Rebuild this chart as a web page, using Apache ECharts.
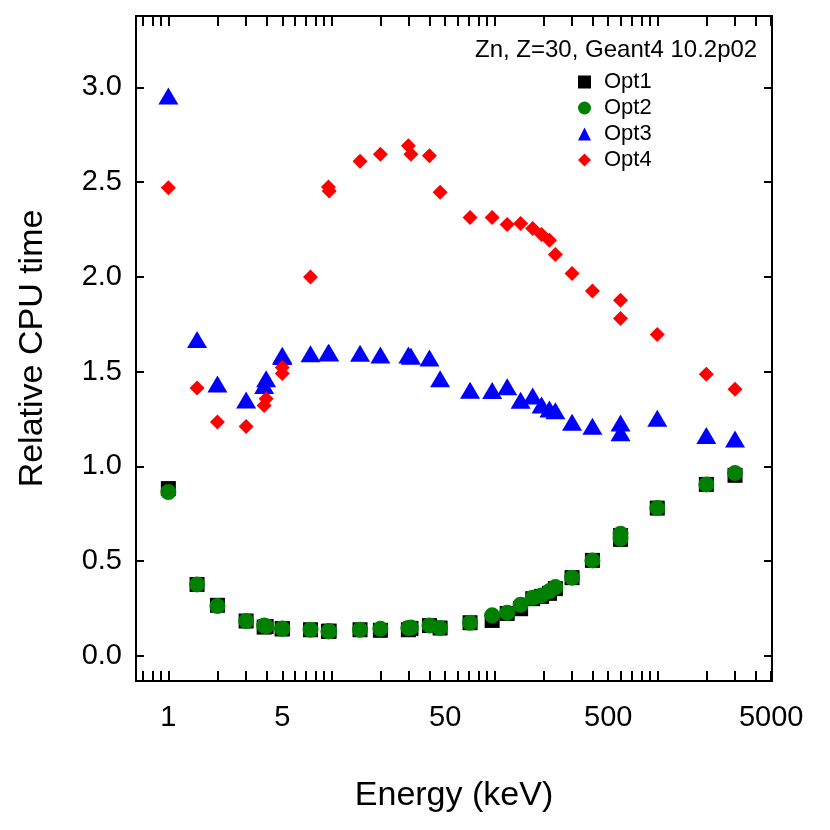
<!DOCTYPE html>
<html>
<head>
<meta charset="utf-8">
<script src="https://cdn.jsdelivr.net/npm/echarts@6/dist/echarts.min.js"></script>
<style>
html,body{margin:0;padding:0;background:#fff;}
#chart{width:830px;height:830px;}
</style>
</head>
<body>
<div id="chart"></div>
<script>
// ---- data ----
const energy = [1, 1.5, 2, 3, 3.87, 3.98, 5, 5, 7.45, 9.6, 9.7, 15, 20, 29.7, 30.8, 40, 46.5, 71, 97, 120, 145, 172, 195, 218, 237, 300, 400, 595, 595, 1000, 2000, 3000];
const opt1 = [0.883, 0.377, 0.267, 0.184, 0.152, 0.155, 0.143, 0.143, 0.138, 0.129, 0.131, 0.138, 0.135, 0.138, 0.145, 0.160, 0.147, 0.175, 0.187, 0.224, 0.249, 0.302, 0.314, 0.330, 0.355, 0.413, 0.504, 0.635, 0.615, 0.780, 0.905, 0.953];
const opt2 = [0.865, 0.377, 0.263, 0.184, 0.160, 0.157, 0.143, 0.145, 0.138, 0.129, 0.131, 0.138, 0.143, 0.147, 0.150, 0.161, 0.147, 0.175, 0.214, 0.228, 0.270, 0.307, 0.319, 0.342, 0.363, 0.413, 0.504, 0.645, 0.619, 0.780, 0.905, 0.965];
const opt3 = [2.955, 1.670, 1.435, 1.350, 1.427, 1.462, 1.587, 1.580, 1.594, 1.602, 1.598, 1.597, 1.588, 1.588, 1.581, 1.572, 1.462, 1.402, 1.400, 1.420, 1.349, 1.372, 1.324, 1.303, 1.294, 1.233, 1.212, 1.229, 1.178, 1.254, 1.163, 1.145];
const opt4 = [2.470, 1.414, 1.234, 1.211, 1.322, 1.357, 1.522, 1.490, 2.000, 2.475, 2.454, 2.610, 2.648, 2.692, 2.647, 2.640, 2.447, 2.314, 2.314, 2.277, 2.282, 2.256, 2.224, 2.194, 2.118, 2.018, 1.926, 1.877, 1.780, 1.696, 1.486, 1.407];
const seriesNames = ['Opt1', 'Opt2', 'Opt3', 'Opt4'];
const xTickValues = [0.7, 0.8, 0.9, 1, 2, 3, 4, 5, 6, 7, 8, 9, 10, 20, 30, 40, 50, 60, 70, 80, 90, 100, 200, 300, 400, 500, 600, 700, 800, 900, 1000, 2000, 3000, 4000, 5000];
const xLabelValues = [1, 5, 50, 500, 5000];
const yTickValues = [0, 0.5, 1.0, 1.5, 2.0, 2.5, 3.0];
const titleText = 'Zn, Z=30, Geant4 10.2p02';

const FONT = "'Liberation Sans', Arial, Helvetica, sans-serif";
const xMin = 0.633, xMax = 5058, yMin = -0.1325, yMax = 3.377;

function pairs(ys) { return energy.map((e, i) => [e, ys[i]]); }

const chart = echarts.init(document.getElementById('chart'), null, {renderer: 'canvas'});

const axisLineStyle = {show: true, onZero: false, lineStyle: {color: '#000', width: 2}};
function xAxisDef(pos, showLabels) {
  return {
    type: 'log', logBase: 10, min: xMin, max: xMax, position: pos,
    axisLine: axisLineStyle,
    axisTick: {show: true, inside: true, length: 10, lineStyle: {color: '#000', width: 2}, customValues: xTickValues},
    axisLabel: {show: showLabels, customValues: xLabelValues, fontSize: 29, color: '#000', fontFamily: FONT, margin: 22,
      formatter: v => String(Math.round(v))},
    splitLine: {show: false}, minorTick: {show: false}, minorSplitLine: {show: false},
    name: showLabels ? 'Energy (keV)' : '', nameLocation: 'middle', nameGap: 98,
    nameTextStyle: {fontSize: 34, color: '#000', fontFamily: FONT}
  };
}
function yAxisDef(pos, showLabels) {
  return {
    type: 'value', min: yMin, max: yMax, position: pos,
    axisLine: axisLineStyle,
    axisTick: {show: true, inside: true, length: 8, lineStyle: {color: '#000', width: 2}, customValues: yTickValues},
    axisLabel: {show: showLabels, customValues: yTickValues, fontSize: 29, color: '#000', fontFamily: FONT, margin: 14,
      formatter: v => v.toFixed(1)},
    splitLine: {show: false},
    name: showLabels ? 'Relative CPU time' : '', nameLocation: 'middle', nameGap: 86,
    nameTextStyle: {fontSize: 34, color: '#000', fontFamily: FONT}
  };
}

const option = {
  backgroundColor: '#fff',
  animation: false,
  textStyle: {fontFamily: FONT},
  title: {
    text: titleText, left: 470, top: 33,
    textStyle: {fontSize: 24, fontWeight: 'normal', color: '#000', fontFamily: FONT}
  },
  legend: {
    orient: 'vertical', left: 573, top: 66,
    itemWidth: 13, itemHeight: 13, itemGap: 4,
    textStyle: {fontSize: 22, color: '#000', fontFamily: FONT, padding: [0, 0, 0, 8]},
    data: [
      {name: 'Opt1', icon: 'rect'},
      {name: 'Opt2', icon: 'circle'},
      {name: 'Opt3', icon: 'triangle'},
      {name: 'Opt4', icon: 'diamond'}
    ]
  },
  grid: {left: 136, right: 58, top: 16, bottom: 149, containLabel: false},
  xAxis: [xAxisDef('bottom', true), xAxisDef('top', false)],
  yAxis: [yAxisDef('left', true), yAxisDef('right', false)],
  series: [
    {name: seriesNames[0], type: 'scatter', data: pairs(opt1), symbol: 'rect', symbolSize: 15, itemStyle: {color: '#000000', opacity: 1}},
    {name: seriesNames[1], type: 'scatter', data: pairs(opt2), symbol: 'circle', symbolSize: 16, itemStyle: {color: '#008000', opacity: 1}},
    {name: seriesNames[2], type: 'scatter', data: pairs(opt3), symbol: 'triangle', symbolSize: [20, 17], itemStyle: {color: '#0000ff', opacity: 1}},
    {name: seriesNames[3], type: 'scatter', data: pairs(opt4), symbol: 'diamond', symbolSize: [15, 15], itemStyle: {color: '#ff0000', opacity: 1}}
  ]
};
chart.setOption(option);
</script>
</body>
</html>
